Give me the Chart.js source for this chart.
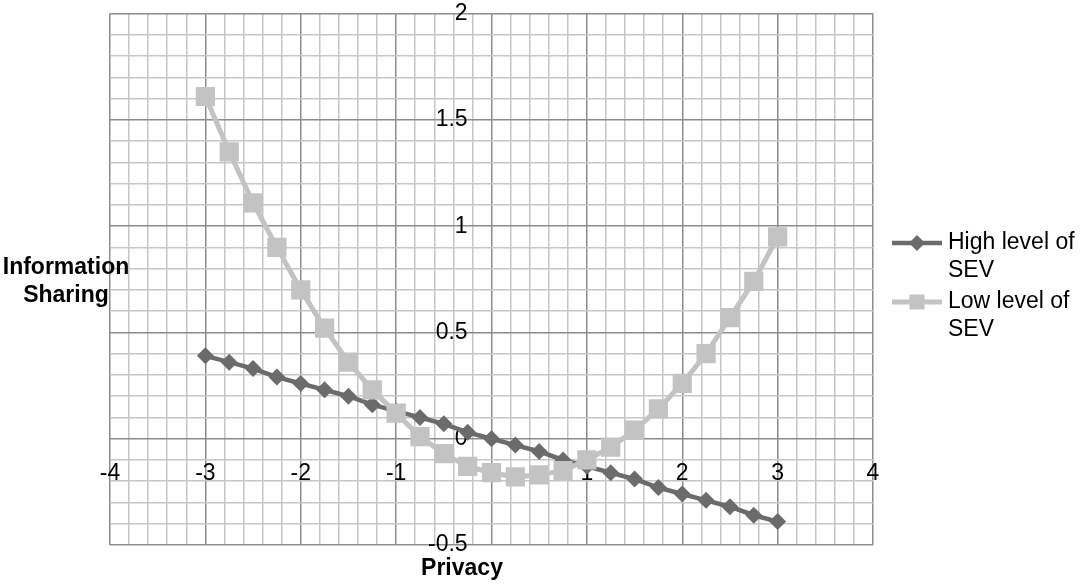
<!DOCTYPE html>
<html>
<head>
<meta charset="utf-8">
<script src="https://cdn.jsdelivr.net/npm/chart.js@4.4.1/dist/chart.umd.min.js"></script>
<style>
  html, body { margin: 0; padding: 0; background: #fff; }
  #wrap { width: 1084px; height: 585px; position: relative; }
</style>
</head>
<body>
<div id="wrap"><canvas id="chart"></canvas></div>
<script>
// values
const privacy = [-3, -2.75, -2.5, -2.25, -2, -1.75, -1.5, -1.25, -1, -0.75, -0.5, -0.25, 0,
                 0.25, 0.5, 0.75, 1, 1.25, 1.5, 1.75, 2, 2.25, 2.5, 2.75, 3];
const highSEV = [0.39, 0.36, 0.33, 0.29, 0.26, 0.23, 0.20, 0.16, 0.13, 0.10, 0.07, 0.03, 0.00,
                 -0.03, -0.06, -0.10, -0.13, -0.16, -0.19, -0.23, -0.26, -0.29, -0.32, -0.36, -0.39];
const lowSEV = [1.61, 1.35, 1.11, 0.90, 0.70, 0.52, 0.36, 0.23, 0.12, 0.01, -0.07, -0.13, -0.16,
                -0.18, -0.17, -0.15, -0.10, -0.04, 0.04, 0.14, 0.26, 0.40, 0.57, 0.74, 0.95];
const seriesNames = [['High level of', 'SEV'], ['Low level of', 'SEV']];
const xTitle = 'Privacy';
const yTitle = ['Information', 'Sharing'];

const FONT = '"Liberation Sans", Arial, sans-serif';
const MAJOR = '#8c8c8c';
const MINOR = '#c6c6c6';
const isWhole = (v, step) => Math.abs(v / step - Math.round(v / step)) < 1e-6;

const toPoints = ys => privacy.map((x, i) => ({ x: x, y: ys[i] }));

// titles and the two-line legend
const extras = {
  id: 'extras',
  afterDraw(chart) {
    const ctx = chart.ctx;
    ctx.save();
    ctx.fillStyle = '#000';
    ctx.textAlign = 'center';
    ctx.textBaseline = 'middle';
    ctx.font = 'bold 23px ' + FONT;
    yTitle.forEach((t, i) => ctx.fillText(t, 66, 268 + i * 28));
    ctx.fillText(xTitle, 462, 569);

    ctx.font = '23px ' + FONT;
    ctx.textAlign = 'left';
    chart.data.datasets.forEach((ds, i) => {
      const y = 243 + i * 59;
      ctx.strokeStyle = ds.borderColor;
      ctx.lineWidth = ds.borderWidth;
      ctx.beginPath();
      ctx.moveTo(892, y);
      ctx.lineTo(942, y);
      ctx.stroke();
      ctx.fillStyle = ds.backgroundColor;
      if (ds.pointStyle === 'rectRot') {
        ctx.beginPath();
        ctx.moveTo(917 - 8, y);
        ctx.lineTo(917, y - 8);
        ctx.lineTo(917 + 8, y);
        ctx.lineTo(917, y + 8);
        ctx.closePath();
        ctx.fill();
      } else {
        ctx.fillRect(917 - 7.5, y - 7.5, 15, 15);
      }
      ctx.fillStyle = '#000';
      seriesNames[i].forEach((t, k) => ctx.fillText(t, 948, y + k * 28));
    });
    ctx.restore();
  }
};

new Chart(document.getElementById('chart'), {
  type: 'scatter',
  data: {
    datasets: [
      {
        label: 'High level of SEV',
        data: toPoints(highSEV),
        showLine: true,
        borderColor: '#6b6b6b',
        backgroundColor: '#6b6b6b',
        borderWidth: 4.5,
        pointStyle: 'rectRot',
        pointRadius: 8.5,
        pointBorderWidth: 0,
        order: 1
      },
      {
        label: 'Low level of SEV',
        data: toPoints(lowSEV),
        showLine: true,
        borderColor: '#c3c3c3',
        backgroundColor: '#c3c3c3',
        borderWidth: 5,
        pointStyle: 'rect',
        pointRadius: 13.6,
        pointBorderWidth: 0,
        order: 0
      }
    ]
  },
  options: {
    responsive: true,
    maintainAspectRatio: false,
    animation: false,
    events: [],
    layout: { padding: { left: 110, right: 211, top: 11, bottom: 40 } },
    plugins: {
      legend: { display: false },
      tooltip: { enabled: false }
    },
    scales: {
      x: {
        type: 'linear',
        min: -4,
        max: 4,
        position: { y: 0 },
        afterFit: s => { s.height = 0; s.paddingLeft = 0; s.paddingRight = 0; },
        border: { display: false },
        grid: {
          drawTicks: false,
          lineWidth: 1.5,
          color: c => isWhole(c.tick.value, 1) ? MAJOR : MINOR
        },
        ticks: {
          stepSize: 0.2,
          autoSkip: false,
          maxRotation: 0,
          minRotation: 0,
          padding: 21,
          color: '#000',
          font: { family: FONT, size: 23 },
          callback: v => isWhole(v, 1) ? String(Math.round(v)) : ''
        }
      },
      y: {
        type: 'linear',
        min: -0.5,
        max: 2,
        // labels sit a little left of the x = 0 line, as in the original
        position: { x: -0.25 },
        afterFit: s => { s.width = 0; s.paddingTop = 0; s.paddingBottom = 0; },
        border: { display: false },
        grid: {
          drawTicks: false,
          lineWidth: 1.5,
          color: c => isWhole(c.tick.value, 0.5) ? MAJOR : MINOR
        },
        ticks: {
          stepSize: 0.1,
          autoSkip: false,
          color: '#000',
          font: { family: FONT, size: 23 },
          callback: v => isWhole(v, 0.5) ? String(Math.round(v * 10) / 10) : ''
        }
      }
    }
  },
  plugins: [extras]
});
</script>
</body>
</html>
